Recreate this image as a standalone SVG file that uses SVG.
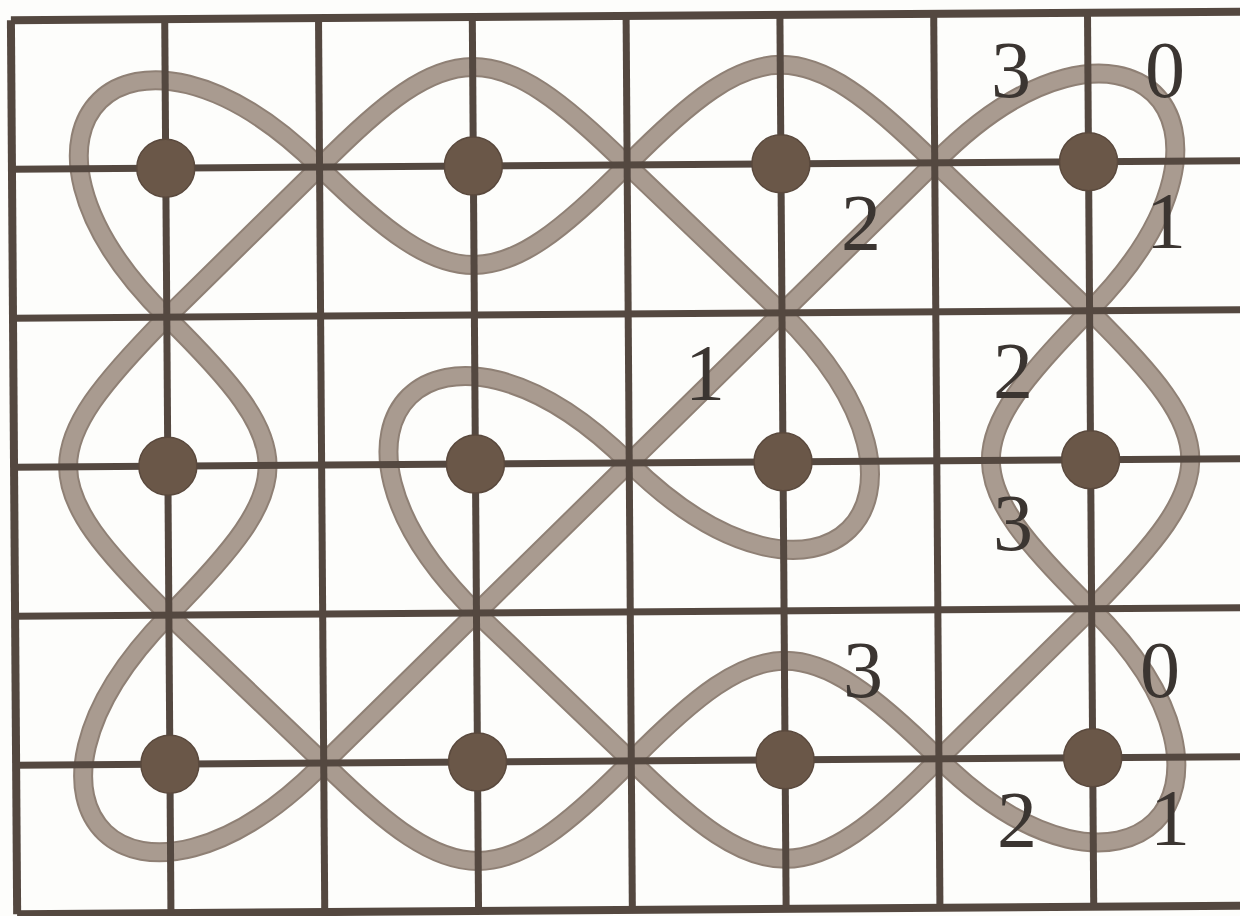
<svg xmlns="http://www.w3.org/2000/svg" width="1240" height="916" viewBox="0 0 1240 916">
<style>
.g{stroke:#544840;stroke-width:7;fill:none}
.b{stroke:#544840;stroke-width:8;fill:none}
.ce{stroke:#8f8075;stroke-width:20;fill:none;stroke-linejoin:round}
.ci{stroke:#a99b90;stroke-width:16;fill:none;stroke-linejoin:round}
.d{fill:#6a5748;stroke:#5a493d;stroke-width:1.5}
.t{font-family:"Liberation Serif","Times New Roman",serif;font-size:80px;fill:#3b3531;text-anchor:middle}
</style>
<defs>
<path id="knot" d="M321.6,165 C453.6,33 497.2,33 629.2,165 L783,314 C973,504 819.2,653 629.2,463 C439.2,273 285.4,422 475.4,612 L629.2,761 C761.2,893 804.8,893 936.8,761 L1090.6,612 C1223.6,479 1223.6,447 1090.6,314 L936.8,165 C804.8,33 761.2,33 629.2,165 C497.2,297 453.6,297 321.6,165 C131.6,-25 -22.2,124 167.8,314 C300.8,447 300.8,479 167.8,612 C-22.2,802 131.6,951 321.6,761 L475.4,612 L629.2,463 L783,314 L936.8,165 C1126.8,-25 1280.6,124 1090.6,314 C957.6,447 957.6,479 1090.6,612 C1275.6,797 1121.8,946 936.8,761 C804.8,629 761.2,629 629.2,761 C497.2,893 453.6,893 321.6,761 L167.8,612 C34.8,479 34.8,447 167.8,314 Z"/>
</defs>
<rect x="0" y="0" width="1240" height="916" fill="#fdfdfb"/>
<g transform="rotate(-0.4 620 460)">
<g id="connectors">
<use href="#knot" class="ce"/>
<use href="#knot" class="ci"/>
</g>
<g id="grid">
<line class="b" x1="14" y1="16" x2="1260" y2="16"/>
<line class="g" x1="14" y1="165" x2="1260" y2="165"/>
<line class="g" x1="14" y1="314" x2="1260" y2="314"/>
<line class="g" x1="14" y1="463" x2="1260" y2="463"/>
<line class="g" x1="14" y1="612" x2="1260" y2="612"/>
<line class="g" x1="14" y1="761" x2="1260" y2="761"/>
<line class="b" x1="14" y1="910" x2="1260" y2="910"/>
<line class="b" x1="14" y1="16" x2="14" y2="910"/>
<line class="g" x1="167.8" y1="16" x2="167.8" y2="910"/>
<line class="g" x1="321.6" y1="16" x2="321.6" y2="910"/>
<line class="g" x1="475.4" y1="16" x2="475.4" y2="910"/>
<line class="g" x1="629.2" y1="16" x2="629.2" y2="910"/>
<line class="g" x1="783" y1="16" x2="783" y2="910"/>
<line class="g" x1="936.8" y1="16" x2="936.8" y2="910"/>
<line class="g" x1="1090.6" y1="16" x2="1090.6" y2="910"/>
</g>
<g id="dot-1-1"><circle class="d" cx="167.8" cy="165" r="29"/></g>
<g id="dot-1-2"><circle class="d" cx="475.4" cy="165" r="29"/></g>
<g id="dot-1-3"><circle class="d" cx="783" cy="165" r="29"/></g>
<g id="dot-1-4"><circle class="d" cx="1090.6" cy="165" r="29"/></g>
<g id="dot-2-1"><circle class="d" cx="167.8" cy="463" r="29"/></g>
<g id="dot-2-2"><circle class="d" cx="475.4" cy="463" r="29"/></g>
<g id="dot-2-3"><circle class="d" cx="783" cy="463" r="29"/></g>
<g id="dot-2-4"><circle class="d" cx="1090.6" cy="463" r="29"/></g>
<g id="dot-3-1"><circle class="d" cx="167.8" cy="761" r="29"/></g>
<g id="dot-3-2"><circle class="d" cx="475.4" cy="761" r="29"/></g>
<g id="dot-3-3"><circle class="d" cx="783" cy="761" r="29"/></g>
<g id="dot-3-4"><circle class="d" cx="1090.6" cy="761" r="29"/></g>
</g>
<g id="labels">
<text class="t" x="1011" y="97">3</text>
<text class="t" x="1165" y="97">0</text>
<text class="t" x="861" y="250">2</text>
<text class="t" x="1166" y="248">1</text>
<text class="t" x="705" y="400">1</text>
<text class="t" x="1013" y="398">2</text>
<text class="t" x="1013" y="550">3</text>
<text class="t" x="863" y="697">3</text>
<text class="t" x="1160" y="697">0</text>
<text class="t" x="1017" y="847">2</text>
<text class="t" x="1170" y="845">1</text>
</g>
</svg>
